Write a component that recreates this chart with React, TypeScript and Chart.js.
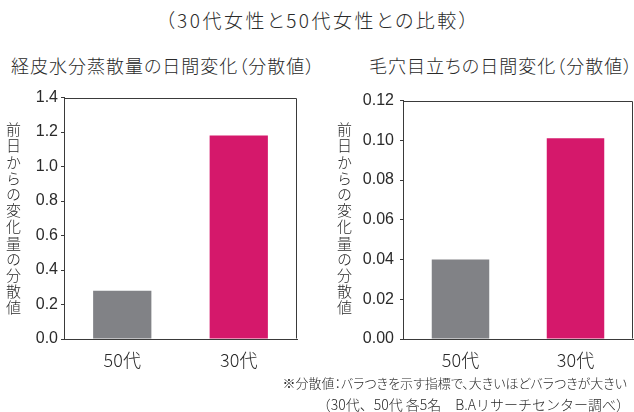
import React, { useEffect, useRef } from "react";
import { Chart, registerables } from "chart.js";

Chart.register(...registerables);

// ---- data ----
const categories = ["50代", "30代"];
const tewlValues = [0.28, 1.18];
const poreValues = [0.04, 0.101];
const barColors = ["#818286", "#D5186B"];
const tewlTickRange = [0, 1.4, 0.2];
const poreTickRange = [0, 0.12, 0.02];
const mainTitle = "（30代女性と50代女性との比較）";
const tewlTitle = "経皮水分蒸散量の日間変化（分散値）";
const poreTitle = "毛穴目立ちの日間変化（分散値）";
const yAxisTitle = "前日からの変化量の分散値";
const note1 = "※分散値：バラつきを示す指標で、大きいほどバラつきが大きい";
const note2 = "（30代、50代 各5名　B.Aリサーチセンター調べ）";

const JP = '"Noto Sans CJK JP", "Noto Sans", sans-serif';
const NUM = '"Liberation Sans", Arial, sans-serif';
const INK = "#2a2a2a";

const boxPlugin = {
  id: "boxBorder",
  afterDraw(chart: any) {
    const { ctx, chartArea: a } = chart;
    ctx.save();
    ctx.strokeStyle = "#3a3a3a";
    ctx.lineWidth = 1;
    ctx.beginPath();
    const l = Math.round(a.left) + 0.5;
    const r = Math.round(a.right) - 0.5;
    const t = Math.round(a.top) + 0.5;
    const b = Math.round(a.bottom) - 0.5;
    ctx.moveTo(l, t);
    ctx.lineTo(r, t);
    ctx.lineTo(r, b);
    ctx.stroke();
    ctx.restore();
  },
};

function BarPanel(props: any) {
  const ref = useRef<HTMLCanvasElement | null>(null);
  useEffect(() => {
    if (!ref.current) return;
    const [min, max, step] = props.range;
    const chart = new Chart(ref.current, {
      type: "bar",
      data: {
        labels: categories,
        datasets: [
          {
            data: props.values,
            backgroundColor: barColors,
            borderWidth: 0,
            categoryPercentage: 1,
            barPercentage: 0.5,
          },
        ],
      },
      options: {
        animation: false,
        responsive: false,
        layout: { padding: { top: 11, right: props.padRight, left: 0, bottom: 0 } },
        plugins: { legend: { display: false }, tooltip: { enabled: false }, title: { display: false } },
        scales: {
          x: {
            grid: { display: false },
            border: { display: true, color: "#3a3a3a", width: 1 },
            ticks: { color: INK, font: { family: JP, size: 18, weight: "300" }, padding: 2 },
            afterFit: (s: any) => {
              s.height = 36;
            },
          },
          y: {
            min,
            max,
            grid: { display: true, drawOnChartArea: false, drawTicks: true, tickLength: 3, color: "#3a3a3a" },
            border: { display: true, color: "#3a3a3a", width: 1 },
            ticks: {
              stepSize: step,
              padding: props.tickPad,
              color: INK,
              font: { family: NUM, size: 16 },
              callback: (v: any) => Number(v).toFixed(props.decimals),
            },
            afterFit: (s: any) => {
              s.width = props.yWidth;
            },
          },
        },
      },
      plugins: [boxPlugin],
    });
    return () => chart.destroy();
  }, []);
  return <canvas ref={ref} width={props.width} height={290} />;
}

const vertLabel: React.CSSProperties = {
  position: "absolute",
  writingMode: "vertical-rl",
  textOrientation: "upright",
  fontFamily: JP,
  fontSize: 15,
  letterSpacing: 1.2,
  lineHeight: 1,
  color: INK,
};

const jpText: React.CSSProperties = {
  position: "absolute",
  whiteSpace: "nowrap",
};

export default function App() {
  return (
    <div
      style={{
        position: "fixed",
        left: 0,
        top: 0,
        width: 634,
        height: 412,
        background: "#fff",
        overflow: "hidden",
        fontFamily: JP,
        fontWeight: 300,
        color: INK,
      }}
    >
      <div style={{ ...jpText, fontFeatureSettings: '"palt"', left: 0, width: 636, top: 7, textAlign: "center", fontSize: 19, letterSpacing: 2.5, lineHeight: "26px" }}>
        {mainTitle}
      </div>
      <div style={{ ...jpText, fontFeatureSettings: '"palt"', left: 11, top: 52, fontSize: 18, letterSpacing: 1, lineHeight: "26px" }}>
        {tewlTitle}
      </div>
      <div style={{ ...jpText, fontFeatureSettings: '"palt"', left: 369, top: 52, fontSize: 18, letterSpacing: 1, lineHeight: "26px" }}>
        {poreTitle}
      </div>
      <div style={{ position: "absolute", left: 0, top: 85 }}>
        <BarPanel values={tewlValues} range={tewlTickRange} decimals={1} yWidth={64} padRight={13} width={310} tickPad={3} />
      </div>
      <div style={{ position: "absolute", left: 320, top: 85 }}>
        <BarPanel values={poreValues} range={poreTickRange} decimals={2} yWidth={83} padRight={1} width={314} tickPad={6} />
      </div>
      <div style={{ ...vertLabel, left: 6, top: 122 }}>{yAxisTitle}</div>
      <div style={{ ...vertLabel, left: 337, top: 122 }}>{yAxisTitle}</div>
      <div style={{ ...jpText, fontFeatureSettings: '"palt"', right: 7, top: 373, fontSize: 13, lineHeight: "20px" }}>{note1}</div>
      <div style={{ ...jpText, right: 4, top: 394, fontSize: 14, lineHeight: "20px" }}>{note2}</div>
    </div>
  );
}
